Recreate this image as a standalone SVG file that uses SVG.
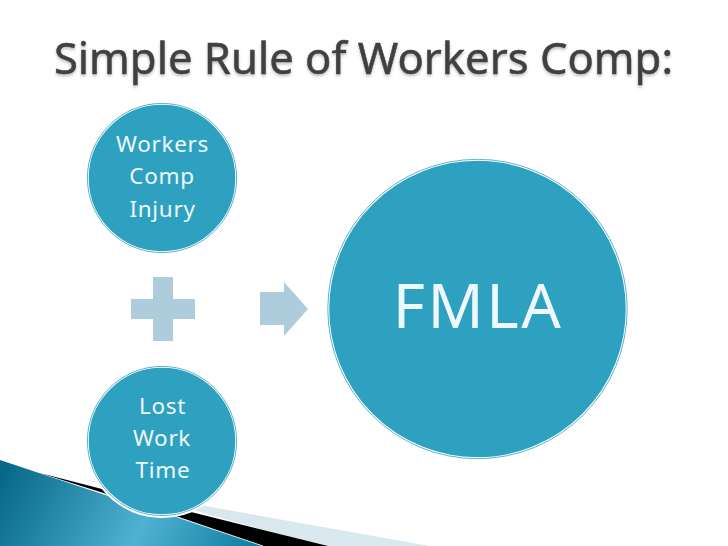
<svg xmlns="http://www.w3.org/2000/svg" width="728" height="546" viewBox="0 0 728 546">
<style>
.t{font-family:"Noto Sans","DejaVu Sans",sans-serif;fill:#eef8fb;text-anchor:middle}
.s{font-size:22.5px;letter-spacing:.7px}
.c{fill:#2ea1c0;stroke:#fff;stroke-width:1.5}
.r{fill:none;stroke:#2ea1c0;stroke-width:.8}
.p{fill:#aecddc}
</style>
<defs>
<linearGradient id="g" gradientUnits="userSpaceOnUse" x1="10" y1="460" x2="250" y2="580">
<stop offset="0" stop-color="#07688a"/><stop offset=".55" stop-color="#4fb2d2"/><stop offset="1" stop-color="#0b789c"/>
</linearGradient>
<filter id="sh" x="-5%" y="-20%" width="110%" height="150%"><feDropShadow dx="0" dy="2" stdDeviation="1.5" flood-color="#000" flood-opacity=".25"/></filter>
</defs>
<rect width="728" height="546" fill="#fff"/>
<g id="swoosh">
<path d="M80 478L200 505L430 546H320Z" fill="#d9e8ef"/>
<path d="M40 473L187 511L328 546H262L170 514Z" fill="#000"/>
<path d="M0 460L105 495L177 517L263 546H0Z" fill="url(#g)"/>
<path d="M177 517L263 546" fill="none" stroke="#cfe6ee" stroke-width="1"/>
</g>
<text x="363.5" y="74" font-family="'Noto Sans','DejaVu Sans',sans-serif" font-size="43.6" fill="#414141" stroke="#414141" stroke-width=".5" text-anchor="middle" filter="url(#sh)">Simple Rule of Workers Comp:</text>
<g id="connectors">
<path class="p" d="M153 277H173V299H195V319H173V341H153V319H131V299H153Z"/>
<path class="p" d="M260 292H284V282L308 309L284 336V325H260Z"/>
</g>
<g id="node-injury">
<circle class="c" cx="162" cy="178" r="74"/><circle class="r" cx="162" cy="178" r="74.6"/>
<text class="t s" x="162.5" y="152">Workers</text><text class="t s" x="162" y="184">Comp</text><text class="t s" x="162.5" y="217">Injury</text>
</g>
<g id="node-lost">
<circle cx="162" cy="441" r="77" fill="#fff"/>
<circle class="c" cx="162" cy="441" r="74"/><circle class="r" cx="162" cy="441" r="74.6"/>
<text class="t s" x="162.5" y="414">Lost</text><text class="t s" x="162" y="446">Work</text><text class="t s" x="163" y="478">Time</text>
</g>
<g id="node-fmla">
<circle class="c" cx="477.5" cy="309" r="149"/><circle class="r" cx="477.5" cy="309" r="149.7"/>
<text class="t" x="478" y="328" font-size="62" letter-spacing="2.5">FMLA</text>
</g>
</svg>
